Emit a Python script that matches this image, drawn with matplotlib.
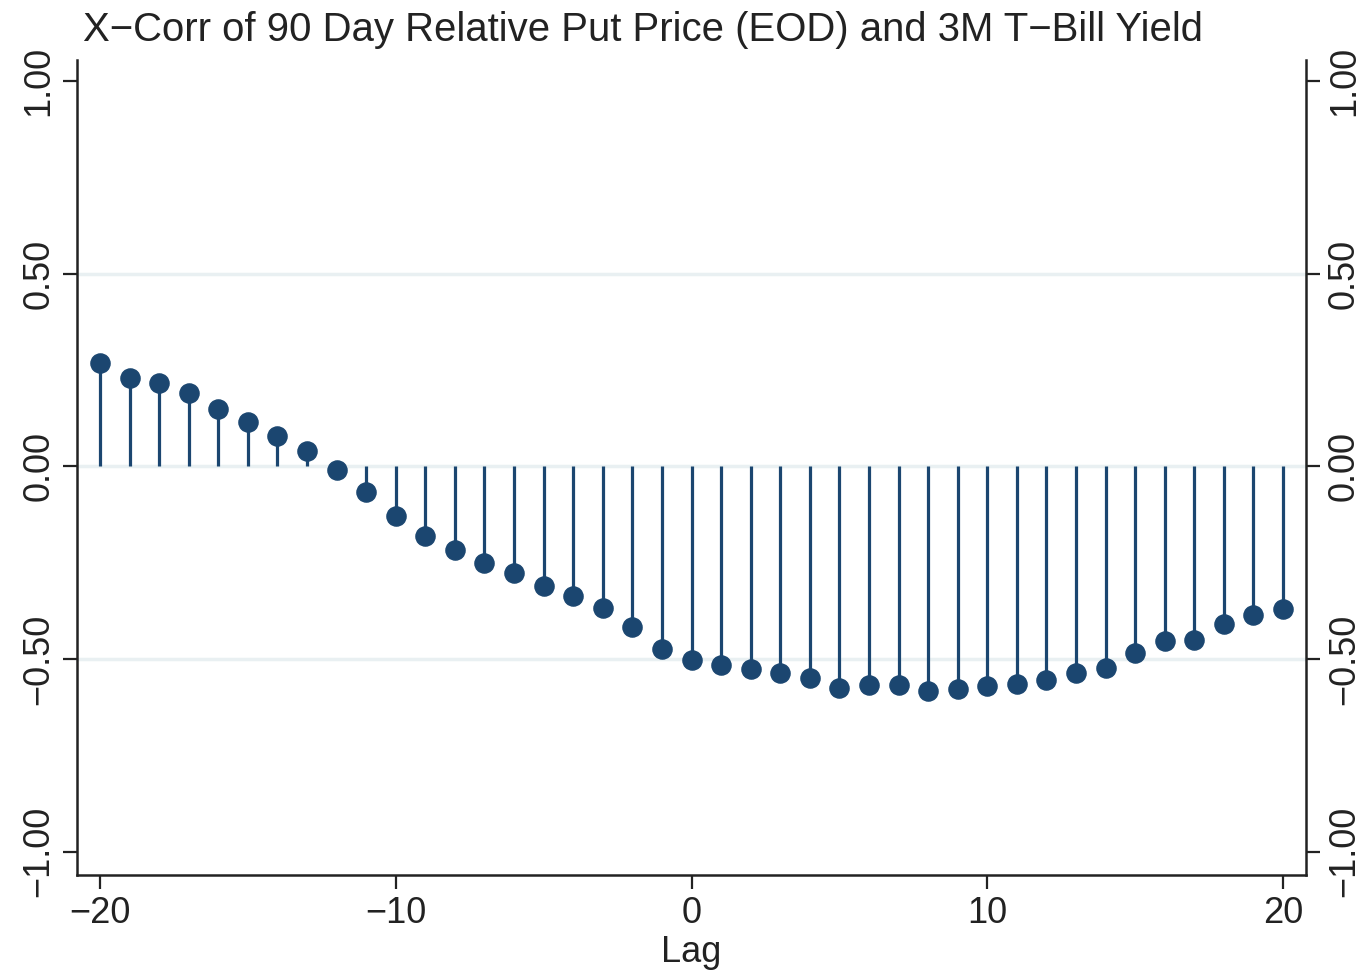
import matplotlib
matplotlib.use("Agg")
import matplotlib.pyplot as plt

plt.rcParams['font.family'] = ['Liberation Sans', 'DejaVu Sans']

lags = list(range(-20, 21))
xcorr = [0.269, 0.228, 0.215, 0.189, 0.150, 0.114, 0.078, 0.039, -0.010, -0.067,
         -0.130, -0.181, -0.218, -0.251, -0.277, -0.311, -0.337, -0.368, -0.417, -0.474,
         -0.503, -0.516, -0.526, -0.536, -0.549, -0.575, -0.567, -0.567, -0.583, -0.578,
         -0.570, -0.565, -0.554, -0.536, -0.523, -0.484, -0.453, -0.451, -0.409, -0.386,
         -0.370]
yticks = [-1.0, -0.5, 0.0, 0.5, 1.0]
xticks = [-20, -10, 0, 10, 20]

color = '#1b4670'
fig = plt.figure(figsize=(13.64, 9.72), dpi=100)
ax = fig.add_axes([77 / 1364, 97 / 972, 1229 / 1364, 815 / 972])

for g in [-0.5, 0.0, 0.5]:
    ax.axhline(g, color='#e9f0f2', lw=2.5, zorder=0)

ax.vlines(lags, 0, xcorr, color=color, lw=2.3, zorder=2)
ax.plot(lags, xcorr, 'o', color=color, ms=13.8, zorder=3)

ax.set_xlim(-20.78, 20.78)
ax.set_ylim(-1.06, 1.054)
ax.set_xticks(xticks)
ax.set_xticklabels([str(t).replace('-', '\u2212') for t in xticks])
ax.set_yticks(yticks)
ax.set_yticklabels([f'{t:.2f}'.replace('-', '\u2212') for t in yticks], rotation=90, va='center')

ax.spines['top'].set_visible(False)
for s in ['left', 'right', 'bottom']:
    ax.spines[s].set_linewidth(1.8)
    ax.spines[s].set_color('#222222')

ax.tick_params(axis='both', direction='out', length=10, width=1.6, color='#222222',
               labelsize=26, labelcolor='#222222')
ax.tick_params(axis='y', right=True, labelright=True, pad=5)
for lbl in ax.get_yticklabels(which='both'):
    lbl.set_rotation(90)
    lbl.set_va('center')
ax.tick_params(axis='x', pad=5)

ax.set_xlabel('Lag', fontsize=26, color='#222222', labelpad=3)
fig.text(83 / 1364, 1 - 41 / 972, 'X\u2212Corr of 90 Day Relative Put Price (EOD) and 3M T\u2212Bill Yield',
         fontsize=28.9, color='#222222', ha='left', va='baseline')

fig.savefig('out.png', dpi=100)
